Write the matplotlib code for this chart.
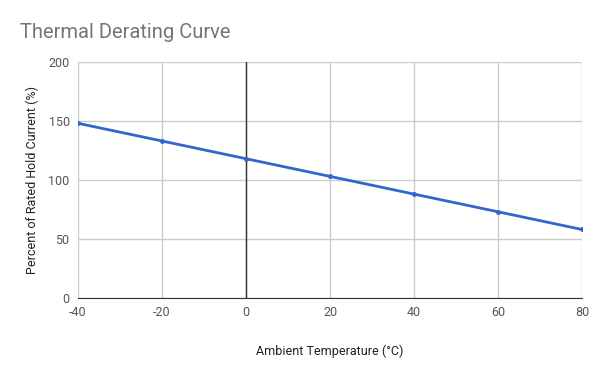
import matplotlib
matplotlib.use("Agg")
import matplotlib.pyplot as plt

temps = [-40, -20, 0, 20, 40, 60, 80]
hold_pct = [148, 133, 118, 103, 88, 73, 58]
x_ticks = [-40, -20, 0, 20, 40, 60, 80]
y_ticks = [0, 50, 100, 150, 200]

plt.rcParams['font.family'] = ['Roboto', 'DejaVu Sans']
plt.rcParams['axes.unicode_minus'] = False

fig = plt.figure(figsize=(6, 3.71), dpi=100)
ax = fig.add_axes([0.13, 0.197, 0.84, 0.636])

ax.plot(temps, hold_pct, color='#3366cc', linewidth=2, marker='o', markersize=2.5, zorder=3)
ax.axvline(0, color='#333333', linewidth=1, zorder=2)

ax.set_xlim(-40, 80)
ax.set_ylim(0, 200)
ax.set_xticks(x_ticks)
ax.set_yticks(y_ticks)
ax.grid(True, color='#cccccc', linewidth=1)
ax.set_axisbelow(True)

for s in ['top', 'right', 'left']:
    ax.spines[s].set_visible(False)
ax.spines['bottom'].set_color('#333333')
ax.tick_params(length=0, labelsize=9, colors='#555555', pad=6)

ax.set_xlabel('Ambient Temperature (°C)', fontsize=9, color='#222222', labelpad=18)
ax.set_ylabel('Percent of Rated Hold Current (%)', fontsize=9, color='#222222', labelpad=7)

fig.text(20 / 600, 1 - 32 / 371, 'Thermal Derating Curve', fontsize=14.5, color='#757575',
         ha='left', va='center')

fig.savefig('out.png', dpi=100)
